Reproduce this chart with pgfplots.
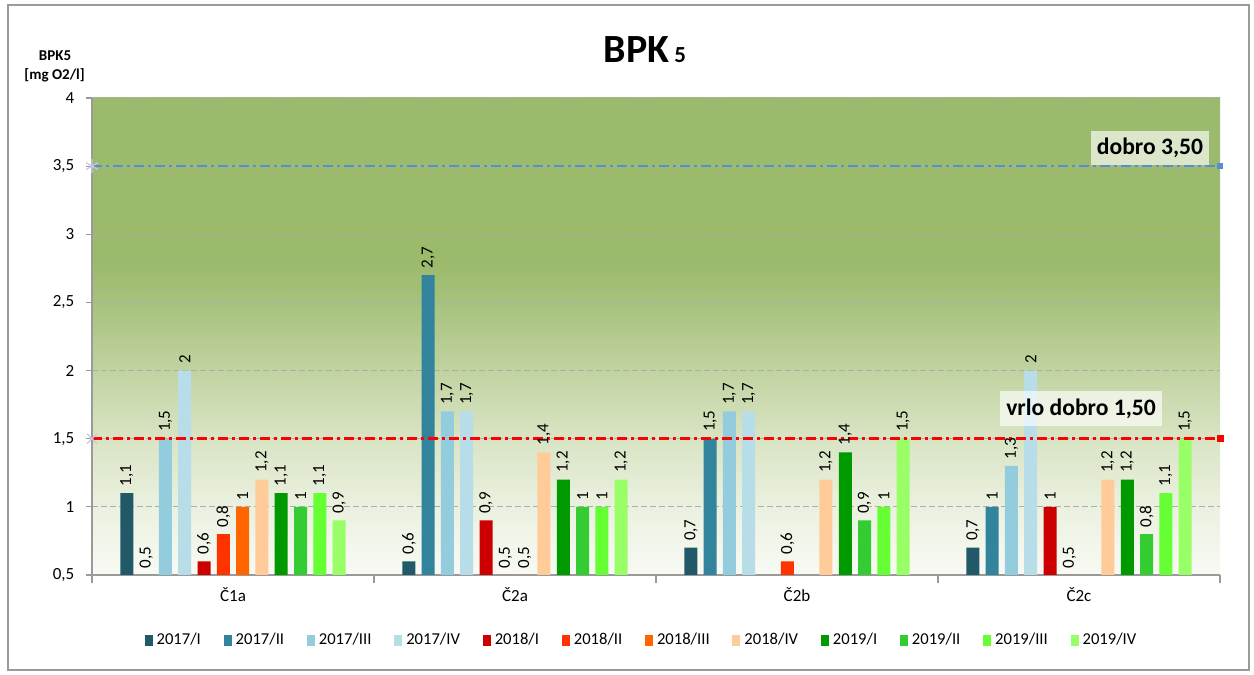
\documentclass[border=0pt]{standalone}
\usepackage{fontspec}
\setmainfont{Carlito}
\usepackage{graphicx}
\usepackage{pgfplots}
\usepackage{pgfplotstable}
\pgfplotsset{compat=1.18}

\definecolor{c1}{HTML}{215968}
\definecolor{c2}{HTML}{31849B}
\definecolor{c3}{HTML}{93CDDD}
\definecolor{c4}{HTML}{B7DEE8}
\definecolor{c5}{HTML}{CC0000}
\definecolor{c6}{HTML}{FF3300}
\definecolor{c7}{HTML}{FF6600}
\definecolor{c8}{HTML}{FFCC99}
\definecolor{c9}{HTML}{009900}
\definecolor{c10}{HTML}{33CC33}
\definecolor{c11}{HTML}{66FF33}
\definecolor{c12}{HTML}{99FF66}
\definecolor{gA}{HTML}{F8FAF4}
\definecolor{gB}{HTML}{EBF1E0}
\definecolor{gC}{HTML}{D9E4C4}
\definecolor{gD}{HTML}{C1D3A1}
\definecolor{gE}{HTML}{A7C27D}
\definecolor{gF}{HTML}{9BBA6B}
\definecolor{gG}{HTML}{9DBB6F}
\definecolor{lineblue}{HTML}{558ED5}
\definecolor{lav}{HTML}{C8C6E4}
\definecolor{axgray}{HTML}{9A9A9A}

\pgfdeclareverticalshading{bgshade}{100bp}{color(0bp)=(gA); color(25bp)=(gA); color(32bp)=(gB); color(39.3bp)=(gC); color(46.4bp)=(gD); color(53.5bp)=(gE); color(58bp)=(gF); color(100bp)=(gG)}

\pgfplotstableread{
x s1 s2 s3 s4 s5 s6 s7 s8 s9 s10 s11 s12
0 1.1 0.5 1.5 2 0.6 0.8 1 1.2 1.1 1 1.1 0.9
1 0.6 2.7 1.7 1.7 0.9 0.5 0.5 1.4 1.2 1 1 1.2
2 0.7 1.5 1.7 1.7 nan 0.6 nan 1.2 1.4 0.9 1 1.5
3 0.7 1 1.3 2 1 0.5 nan 1.2 1.2 0.8 1.1 1.5
}\datatable

\pgfplotsset{
  bs/.style={ybar, bar width=6.5pt, bar shift=#1, draw=none,
    nodes near coords={\rotatebox{90}{\pgfmathprintnumber{\pgfplotspointmeta}}},
    every node near coord/.append style={anchor=south, xshift=#1, font=\fontsize{8.5}{10}\selectfont, inner sep=3.2pt, text=black},
    legend image code/.code={\fill[##1] (0pt,-2.75pt) rectangle (4pt,2.75pt);}},
}

\begin{document}
\begin{tikzpicture}
\path (0,0) rectangle (627pt,337.5pt);
\draw[axgray, line width=0.6pt] (4pt,2.5pt) rectangle (624.5pt,335pt);
\begin{axis}[
  at={(46pt,50pt)}, anchor=south west, scale only axis,
  width=564pt, height=238.5pt,
  xmin=-0.5, xmax=3.5, ymin=0.5, ymax=4,
  ytick={0.5,1,1.5,2,2.5,3,3.5,4},
  xtick={0,1,2,3}, xticklabels={Č1a,Č2a,Č2b,Č2c},
  minor xtick={-0.5,0.5,1.5,2.5,3.5},
  tick align=outside,
  major tick length=3pt, minor tick length=4pt,
  major x tick style={draw=none},
  minor x tick style={draw=axgray, line width=0.6pt},
  y tick style={draw=axgray, line width=0.6pt},
  axis x line*=bottom, axis y line*=left,
  axis line style={draw=axgray, line width=0.9pt},
  ymajorgrids,
  major grid style={draw=gray!65, line width=0.5pt, dash pattern=on 3pt off 1.5pt},
  axis background/.style={shade, shading=bgshade},
  tick label style={font=\fontsize{8.5}{10}\selectfont, text=black},
  yticklabel style={xshift=-2.3pt},
  /pgf/number format/use comma,
  /pgf/number format/assume math mode=true,
  legend columns=12,
  legend cell align=left,
  legend style={at={(0.488,-0.1363)}, anchor=center, draw=none, fill=none,
    font=\fontsize{8.3}{9}\selectfont, inner sep=0pt,
    /tikz/every even column/.append style={column sep=9.4pt}},
]
\addplot[bs=-53.075pt, fill=c1] table[x=x,y=s1]{\datatable};
\addlegendentry{2017/I}
\addplot[bs=-43.425pt, fill=c2] table[x=x,y=s2]{\datatable};
\addlegendentry{2017/II}
\addplot[bs=-33.775pt, fill=c3] table[x=x,y=s3]{\datatable};
\addlegendentry{2017/III}
\addplot[bs=-24.125pt, fill=c4] table[x=x,y=s4]{\datatable};
\addlegendentry{2017/IV}
\addplot[bs=-14.475pt, fill=c5] table[x=x,y=s5]{\datatable};
\addlegendentry{2018/I}
\addplot[bs=-4.825pt, fill=c6] table[x=x,y=s6]{\datatable};
\addlegendentry{2018/II}
\addplot[bs=4.825pt, fill=c7] table[x=x,y=s7]{\datatable};
\addlegendentry{2018/III}
\addplot[bs=14.475pt, fill=c8] table[x=x,y=s8]{\datatable};
\addlegendentry{2018/IV}
\addplot[bs=24.125pt, fill=c9] table[x=x,y=s9]{\datatable};
\addlegendentry{2019/I}
\addplot[bs=33.775pt, fill=c10] table[x=x,y=s10]{\datatable};
\addlegendentry{2019/II}
\addplot[bs=43.425pt, fill=c11] table[x=x,y=s11]{\datatable};
\addlegendentry{2019/III}
\addplot[bs=53.075pt, fill=c12] table[x=x,y=s12]{\datatable};
\addlegendentry{2019/IV}

\addplot[sharp plot, forget plot, lineblue, line width=1pt, dash pattern=on 5pt off 2pt on 1.5pt off 2pt] coordinates {(-0.5,3.5) (3.5,3.5)};
\addplot[sharp plot, forget plot, red, line width=1.5pt, dash pattern=on 5pt off 2pt on 1.5pt off 2pt] coordinates {(-0.5,1.5) (3.5,1.5)};
\addplot[only marks, forget plot, lav, mark=asterisk, mark size=3.5pt, line width=0.6pt] coordinates {(-0.5,3.5)};
\addplot[only marks, forget plot, lav, mark=x, mark size=3.5pt, line width=0.6pt] coordinates {(-0.5,1.5)};
\addplot[only marks, forget plot, lineblue, mark=square*, mark size=1.2pt] coordinates {(3.5,3.5)};
\addplot[only marks, forget plot, red, mark=square*, mark size=1.5pt] coordinates {(3.5,1.5)};
\end{axis}

\node[fill=white, fill opacity=0.65, text opacity=1, inner xsep=3pt, inner ysep=0pt, minimum height=17pt, font=\fontsize{11.8}{13}\bfseries] at (575pt,263.5pt) {dobro 3,50};
\node[fill=white, fill opacity=0.65, text opacity=1, inner xsep=3pt, inner ysep=0pt, minimum height=17.5pt, font=\fontsize{11.8}{13}\bfseries] at (540.5pt,133pt) {vrlo dobro 1,50};

\node[anchor=base, inner sep=0pt] at (322.5pt,306.2pt) {\fontsize{20}{24}\bfseries BPK\hspace{2.5pt}{\fontsize{11.5}{13}\selectfont 5}};
\node[anchor=base, inner sep=0pt, font=\fontsize{7.5}{9}\bfseries] at (27.5pt,307pt) {BPK5};
\node[anchor=base, inner sep=0pt, font=\fontsize{7.5}{9}\bfseries] at (27.3pt,297.5pt) {[mg O2/l]};
\end{tikzpicture}
\end{document}
